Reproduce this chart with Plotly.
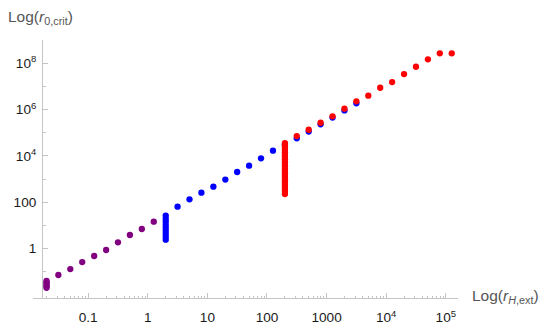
import plotly.graph_objects as go

# ---- data ----
purple_cluster_x = [0.02, 0.02, 0.02, 0.02, 0.02, 0.02]
purple_cluster_y = [0.0398, 0.0347, 0.0302, 0.0263, 0.0229, 0.0200]
purple_x = [0.0316, 0.0501, 0.0794, 0.126, 0.2, 0.316, 0.501, 0.794, 1.26]
purple_y = [0.0718, 0.130, 0.261, 0.474, 0.861, 1.85, 3.83, 6.95, 14.4]

blue_cluster_x = [2.0] * 9
blue_cluster_y = [2.40, 3.24, 4.37, 5.89, 7.94, 10.7, 14.5, 19.5, 26.3]
blue_x = [3.16, 5.01, 7.94, 12.6, 20.0, 31.6, 50.1, 79.4, 126, 200, 316, 501,
          794, 1259, 1995, 3162]
blue_y = [63.7, 133, 256, 465, 942, 2004, 3750, 7816, 16634, 30903, 57016,
          112202, 229087, 446684, 912011, 1849269]

red_cluster_x = [200.0] * 23
red_cluster_y = [224, 282, 355, 447, 562, 708, 891, 1122, 1413, 1778, 2239, 2818,
                 3548, 4467, 5623, 7079, 8913, 11220, 14125, 17783, 22387, 28184, 35481]
red_x = [316, 501, 794, 1259, 1995, 3162, 5012, 7943, 12589, 19953, 31623,
         50119, 79433, 125893]
red_y = [71614, 133968, 268534, 508159, 1081434, 2254239, 3935501, 8709636,
         15346170, 33963500, 70145529, 146554784, 266072506, 266072506]

x_tickvals = [0.1, 1, 10, 100, 1000, 1e4, 1e5]
x_ticktext = ["0.1", "1", "10", "100", "1000", "10<sup>4</sup>", "10<sup>5</sup>"]
y_tickvals = [1, 100, 1e4, 1e6, 1e8]
y_ticktext = ["1", "100", "10<sup>4</sup>", "10<sup>6</sup>", "10<sup>8</sup>"]
x_minor = [m * 10 ** k for k in range(-2, 6) for m in range(2, 10)]
y_minor = [0.1, 10, 1000, 1e5, 1e7]

PURPLE = "#800080"
BLUE = "#0000ff"
RED = "#ff0000"

fig = go.Figure()


def add(xs, ys, color):
    fig.add_trace(go.Scatter(x=xs, y=ys, mode="markers",
                             marker=dict(color=color, size=6.3, line=dict(width=0)),
                             showlegend=False, hoverinfo="skip"))


add(purple_cluster_x + purple_x, purple_cluster_y + purple_y, PURPLE)
add(blue_cluster_x + blue_x, blue_cluster_y + blue_y, BLUE)
add(red_cluster_x + red_x, red_cluster_y + red_y, RED)

L, R, T, B = 33, 92, 40, 35
W, H = 550, 333
pw = W - L - R
ph = H - T - B

tickfont = dict(family="Liberation Sans, Arial, sans-serif", size=13.6, color="#1a1a1a")
axcol = "#c4c4c4"

fig.update_layout(
    template="none",
    width=W, height=H,
    margin=dict(l=L, r=R, t=T, b=B, pad=0, autoexpand=False),
    paper_bgcolor="white", plot_bgcolor="white",
    xaxis=dict(type="log", range=[-1.926, 5.205], showgrid=False, zeroline=False,
               automargin=False,
               showline=True, linecolor=axcol, linewidth=1,
               ticks="inside", ticklen=5, tickcolor=axcol, tickwidth=1,
               tickmode="array", tickvals=x_tickvals, ticktext=x_ticktext,
               tickfont=tickfont, ticklabelstandoff=7,
               minor=dict(ticks="inside", ticklen=2.5, tickcolor=axcol,
                          tickmode="array", tickvals=x_minor, showgrid=False)),
    yaxis=dict(type="log", range=[-2.136, 9.0], showgrid=False, zeroline=False,
               automargin=False,
               showline=True, linecolor=axcol, linewidth=1,
               anchor="free", position=9 / pw,
               ticks="inside", ticklen=5, tickcolor=axcol, tickwidth=1,
               tickmode="array", tickvals=y_tickvals, ticktext=y_ticktext,
               tickfont=tickfont, ticklabelstandoff=3,
               minor=dict(ticks="inside", ticklen=2.5, tickcolor=axcol,
                          tickmode="array", tickvals=y_minor, showgrid=False)),
)

titlefont = dict(family="Liberation Sans, Arial, sans-serif", size=15.5, color="#555555")
fig.add_annotation(text="Log(<i>r</i><sub>0,crit</sub>)", xref="paper", yref="paper",
                   x=(6 - L) / pw, y=(H - B - 17) / ph, xanchor="left", yanchor="middle",
                   showarrow=False, font=titlefont)
fig.add_annotation(text="Log(<i>r</i><sub><i>H</i>,ext</sub>)", xref="paper", yref="paper",
                   x=(470 - L) / pw, y=(H - B - 296) / ph, xanchor="left", yanchor="middle",
                   showarrow=False, font=titlefont)

fig.write_html("out.html", config={"displayModeBar": False},
               post_script="document.body.style.margin='0px';document.body.style.padding='0px';")
